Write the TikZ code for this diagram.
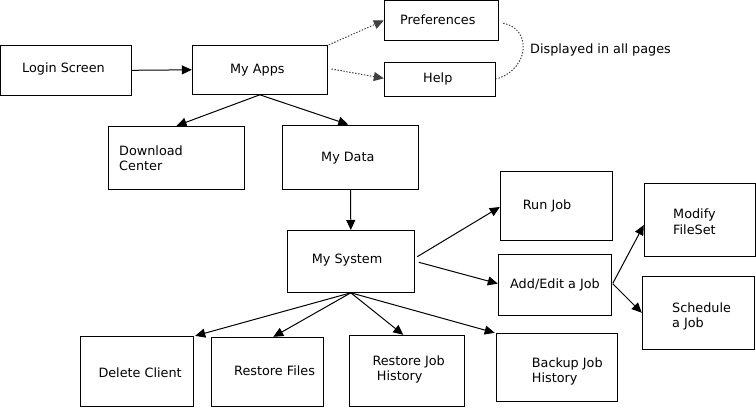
\documentclass[tikz,border=0pt]{standalone}
\usepackage{fontspec}
\setmainfont{DejaVu Sans}
\usetikzlibrary{arrows.meta,calc}
\begin{document}
\begin{tikzpicture}[x=1bp,y=-1bp,
  box/.style={draw=black,line width=1bp,inner sep=0pt,rectangle},
  txt/.style={inner sep=0pt,anchor=west,align=left,font=\fontsize{12.8bp}{15.6bp}\selectfont,text height=9.3bp,text depth=2.6bp,yshift=-1.5bp},
  txttwo/.style={txt,text height=24.9bp},
  arr/.style={line width=1bp,-{Triangle[length=10bp,width=9bp]}},
  dots/.style={line width=1bp,draw=black!75,dash pattern=on 1.4bp off 1.6bp},
  darr/.style={dots,-{Triangle[length=10bp,width=9bp]},shorten <=0pt}
]
\useasboundingbox (0,0) rectangle (756,407);
% boxes
\node[box,minimum width=131bp,minimum height=50bp] (login) at (66.2,70.3) {};
\node[box,minimum width=135bp,minimum height=49bp] (apps) at (259.8,69.8) {};
\node[box,minimum width=135.6bp,minimum height=63bp] (dl) at (176.5,157.8) {};
\node[box,minimum width=136.2bp,minimum height=64.3bp] (data) at (350.6,157.2) {};
\node[box,minimum width=114bp,minimum height=39.6bp] (pref) at (441.3,20.5) {};
\node[box,minimum width=111bp,minimum height=34.3bp] (help) at (439.8,79.2) {};
\node[box,minimum width=127.1bp,minimum height=61.8bp] (sys) at (350.8,261.4) {};
\node[box,minimum width=112bp,minimum height=69bp] (run) at (556.3,206.2) {};
\node[box,minimum width=113.4bp,minimum height=61bp] (add) at (555,284.8) {};
\node[box,minimum width=111bp,minimum height=73.4bp] (mod) at (699.8,220) {};
\node[box,minimum width=112bp,minimum height=73bp] (sch) at (698.3,312.8) {};
\node[box,minimum width=113.4bp,minimum height=69.7bp] (del) at (137,371.2) {};
\node[box,minimum width=112bp,minimum height=68.7bp] (rf) at (267.7,371.7) {};
\node[box,minimum width=115bp,minimum height=70.7bp] (rjh) at (406.8,370.7) {};
\node[box,minimum width=120.6bp,minimum height=68bp] (bjh) at (557,367.3) {};
% texts
\node[txt] (logint) at (22,68) {Login Screen};
\node[txt] (appst) at (230,69) {My Apps};
\node[txttwo] (dlt) at (119,158.3) {Download\\Center};
\node[txt] (datat) at (321,156.7) {My Data};
\node[txt] (preft) at (400,20) {Preferences};
\node[txt] (helpt) at (423,77.7) {Help};
\node[txt] (dispt) at (530,48.3) {Displayed in all pages};
\node[txt] (syst) at (311.7,258.3) {My System};
\node[txt] (runt) at (522.7,205) {Run Job};
\node[txt] (addt) at (510,283.3) {Add/Edit a Job};
\node[txttwo] (modt) at (673,221.7) {Modify\\FileSet};
\node[txttwo] (scht) at (672,315) {Schedule\\a Job};
\node[txt] (delt) at (98.3,372.7) {Delete Client};
\node[txt] (rft) at (234,371) {Restore Files};
\node[txttwo] (rjht) at (372.3,368.2) {Restore Job\\\hspace*{4.4bp}History};
\node[txttwo] (bjht) at (531.7,370.2) {Backup Job\\History};
% connectors
\draw[arr] (login.east) -- (apps.west);
\draw[arr] (apps.south) -- (dl.north);
\draw[arr] (apps.south) -- ($(data.north)+(-2.3,0)$);
\draw[arr] (data.south) -- (sys.north);
\draw[arr] ($(sys.east)+(2.4,-4.7)$) -- ($(run.west)+(0,0.8)$);
\draw[arr] ($(sys.east)+(4,0.9)$) -- ($(add.west)+(0,-1.2)$);
\draw[arr] (sys.south) -- ($(del.north east)+(1,0)$);
\draw[arr] (sys.south) -- ($(rf.north)+(5.6,0)$);
\draw[arr] (sys.south) -- ($(rjh.north)+(-3.5,0)$);
\draw[arr] (sys.south) -- ($(bjh.north west)+(-1.5,0)$);
\draw[arr] ($(add.east)+(0.6,-1.5)$) -- ($(mod.west)+(0,5)$);
\draw[arr] ($(add.east)+(0.6,-1)$) -- (sch.west);
\draw[darr] ($(apps.north east)+(1,0)$) -- (pref.west);
\draw[darr] ($(apps.east)+(3.7,-0.8)$) -- ($(help.west)+(0,-0.9)$);
\draw[dots] ($(pref.east)+(4.4,2.8)$) .. controls (531,28) and (531,68) .. ($(help.east)+(0.7,-0.2)$);
\end{tikzpicture}
\end{document}
